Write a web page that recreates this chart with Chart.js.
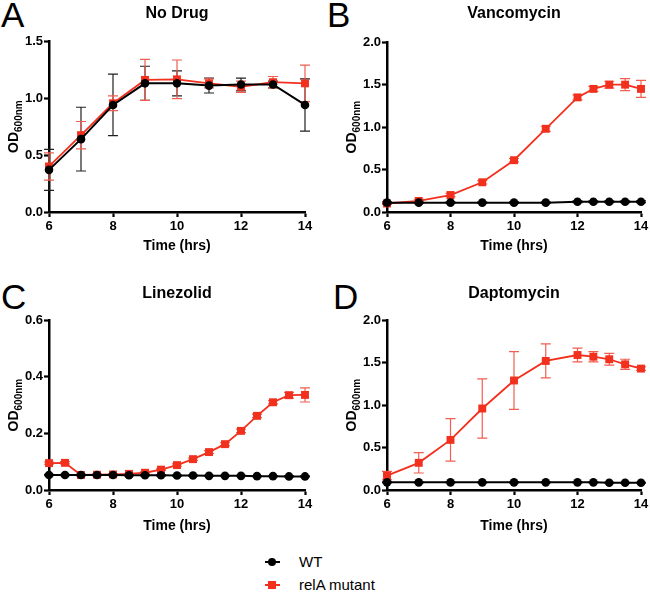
<!DOCTYPE html>
<html>
<head>
<meta charset="utf-8">
<script src="https://cdn.jsdelivr.net/npm/chart.js@4"></script>
<style>
html,body{margin:0;padding:0;background:#fff;overflow:hidden;width:650px;height:595px;}
canvas{position:absolute;}
.letter{position:absolute;font-family:"Liberation Sans",Arial,sans-serif;font-size:35px;color:#000;line-height:1;}
.legend{position:absolute;left:262px;top:552px;font-family:"Liberation Sans",Arial,sans-serif;font-size:15px;color:#000;}
.row{position:relative;height:23px;line-height:20px;padding-left:37px;}
.ln{position:absolute;left:3px;top:9px;width:15px;height:2px;}
.mk{position:absolute;}
</style>
</head>
<body>
<div class="letter" style="left:1px;top:-3px;">A</div>
<div class="letter" style="left:327px;top:-3px;">B</div>
<div class="letter" style="left:1px;top:279px;">C</div>
<div class="letter" style="left:333px;top:279px;">D</div>

<canvas id="cA" width="325" height="255" style="left:0;top:0;"></canvas>
<canvas id="cB" width="340" height="255" style="left:325px;top:0;"></canvas>
<canvas id="cC" width="325" height="280" style="left:0;top:255px;"></canvas>
<canvas id="cD" width="340" height="280" style="left:325px;top:255px;"></canvas>

<div class="legend">
  <div class="row"><span class="ln" style="background:#000"></span><span class="mk" style="left:6px;top:6px;width:8px;height:8px;border-radius:50%;background:#000"></span>WT</div>
  <div class="row"><span class="ln" style="background:rgb(242,48,30)"></span><span class="mk" style="left:6px;top:6px;width:8px;height:8px;background:rgb(242,48,30)"></span>relA mutant</div>
</div>

<script>
// ---------- data ----------
const seriesNames = ['WT', 'relA mutant'];
const panelTitles = ['No Drug', 'Vancomycin', 'Linezolid', 'Daptomycin'];

const A_time = [6, 7, 8, 9, 10, 11, 12, 13, 14];
const A_wt = [0.37, 0.64, 0.94, 1.13, 1.13, 1.11, 1.12, 1.12, 0.94];
const A_wt_err = [0.18, 0.28, 0.27, 0.15, 0.11, 0.065, 0.056, 0.03, 0.23];
const A_rel = [0.40, 0.675, 0.955, 1.16, 1.165, 1.13, 1.10, 1.14, 1.13];
const A_rel_err = [0.12, 0.12, 0.065, 0.18, 0.17, 0.04, 0.05, 0.05, 0.16];

const B_time = [6, 7, 8, 9, 10, 11, 12, 12.5, 13, 13.5, 14];
const B_wt = [0.11, 0.11, 0.11, 0.11, 0.11, 0.11, 0.12, 0.12, 0.12, 0.12, 0.12];
const B_wt_err = [0.01, 0.01, 0.01, 0.01, 0.01, 0.01, 0.01, 0.01, 0.01, 0.01, 0.01];
const B_rel = [0.10, 0.13, 0.20, 0.35, 0.61, 0.98, 1.35, 1.45, 1.50, 1.50, 1.45];
const B_rel_err = [0.01, 0.02, 0.02, 0.02, 0.02, 0.03, 0.03, 0.03, 0.04, 0.07, 0.10];

const C_time = [6, 6.5, 7, 7.5, 8, 8.5, 9, 9.5, 10, 10.5, 11, 11.5, 12, 12.5, 13, 13.5, 14];
const C_wt = [0.053, 0.053, 0.053, 0.053, 0.053, 0.052, 0.052, 0.052, 0.051, 0.051, 0.050, 0.050, 0.050, 0.049, 0.049, 0.048, 0.048];
const C_wt_err = [0.002, 0.002, 0.002, 0.002, 0.002, 0.002, 0.002, 0.002, 0.002, 0.002, 0.002, 0.002, 0.002, 0.002, 0.002, 0.002, 0.002];
const C_rel = [0.095, 0.096, 0.053, 0.054, 0.055, 0.057, 0.061, 0.072, 0.088, 0.109, 0.134, 0.162, 0.209, 0.262, 0.310, 0.335, 0.336];
const C_rel_err = [0.004, 0.004, 0.002, 0.002, 0.002, 0.002, 0.003, 0.003, 0.004, 0.004, 0.005, 0.005, 0.006, 0.006, 0.006, 0.010, 0.025];

const D_time = [6, 7, 8, 9, 10, 11, 12, 12.5, 13, 13.5, 14];
const D_wt = [0.09, 0.09, 0.09, 0.09, 0.09, 0.09, 0.09, 0.09, 0.085, 0.085, 0.085];
const D_wt_err = [0.005, 0.005, 0.005, 0.005, 0.005, 0.005, 0.005, 0.005, 0.005, 0.005, 0.005];
const D_rel = [0.17, 0.32, 0.59, 0.96, 1.29, 1.52, 1.59, 1.57, 1.54, 1.48, 1.43];
const D_rel_err = [0.05, 0.12, 0.25, 0.35, 0.34, 0.20, 0.08, 0.06, 0.07, 0.06, 0.02];

const yMaxes = [1.5, 2.0, 0.6, 2.0];
const ySteps = [0.5, 0.5, 0.2, 0.5];
const xTicks = [6, 8, 10, 12, 14];

// ---------- styling ----------
const FONT = '"Liberation Sans", Arial, Helvetica, sans-serif';
const RED = 'rgb(242,48,30)';
const RED_ERR = 'rgb(240,95,80)';
const BLACK = '#000';

const errorBarPlugin = {
  id: 'errorBars',
  beforeDatasetsDraw(chart) {
    const ctx = chart.ctx;
    const xs = chart.scales.x, ys = chart.scales.y;
    chart.data.datasets.forEach((ds) => {
      if (!ds.errorBars) return;
      ctx.save();
      ctx.strokeStyle = ds.errorColor;
      ctx.lineWidth = 1.2;
      ds.data.forEach((p, j) => {
        const e = ds.errorBars[j];
        if (!e) return;
        const x = xs.getPixelForValue(p.x);
        const y1 = ys.getPixelForValue(p.y + e);
        const y2 = ys.getPixelForValue(p.y - e);
        ctx.beginPath();
        ctx.moveTo(x, y1); ctx.lineTo(x, y2);
        ctx.moveTo(x - 5, y1); ctx.lineTo(x + 5, y1);
        ctx.moveTo(x - 5, y2); ctx.lineTo(x + 5, y2);
        ctx.stroke();
      });
      ctx.restore();
    });
  }
};

const yTitlePlugin = {
  id: 'yTitle',
  afterDraw(chart) {
    const ctx = chart.ctx;
    const area = chart.chartArea;
    const cx = area.left - 36;
    const cy = (area.top + area.bottom) / 2;
    ctx.save();
    ctx.translate(cx, cy);
    ctx.rotate(-Math.PI / 2);
    ctx.fillStyle = '#000';
    ctx.textBaseline = 'alphabetic';
    ctx.font = 'bold 14px ' + FONT;
    const w1 = ctx.measureText('OD').width;
    ctx.font = 'bold 10px ' + FONT;
    const w2 = ctx.measureText('600nm').width;
    const x0 = -(w1 + w2) / 2;
    ctx.font = 'bold 14px ' + FONT;
    ctx.fillText('OD', x0, 5);
    ctx.font = 'bold 10px ' + FONT;
    ctx.fillText('600nm', x0 + w1, 8.5);
    ctx.restore();
  }
};

function pts(xs, ys) { return xs.map((x, i) => ({ x: x, y: ys[i] })); }

function makePanel(id, title, time, wt, wtErr, rel, relErr, yMax, yStep, yWidth, xHeight, titleTop, titleBottom, padRight) {
  new Chart(document.getElementById(id), {
    type: 'line',
    data: {
      datasets: [
        {
          label: seriesNames[0], data: pts(time, wt), errorBars: wtErr, errorColor: '#222',
          borderColor: BLACK, backgroundColor: BLACK, borderWidth: 2,
          pointStyle: 'circle', pointRadius: 4.3, pointBorderWidth: 0, tension: 0, clip: false
        },
        {
          label: seriesNames[1], data: pts(time, rel), errorBars: relErr, errorColor: RED_ERR,
          borderColor: RED, backgroundColor: RED, borderWidth: 1.8,
          pointStyle: 'rect', pointRadius: 5.6, pointBorderWidth: 0, tension: 0, clip: false
        }
      ]
    },
    options: {
      responsive: false,
      animation: false,
      devicePixelRatio: 1,
      layout: { padding: { left: 0, right: padRight, top: 0, bottom: 0 } },
      plugins: {
        legend: { display: false },
        tooltip: { enabled: false },
        title: {
          display: true, text: title, fullSize: false, color: '#000',
          font: { family: FONT, size: 16, weight: 'bold' },
          padding: { top: titleTop, bottom: titleBottom }
        }
      },
      scales: {
        x: {
          type: 'linear', min: 6, max: 14,
          afterBuildTicks: (s) => { s.ticks = xTicks.map(v => ({ value: v })); },
          afterFit: (s) => { s.height = xHeight; },
          ticks: { color: '#000', padding: 2, font: { family: FONT, size: 13, weight: 'bold' }, maxRotation: 0 },
          grid: { drawOnChartArea: false, drawTicks: true, tickLength: 5, tickWidth: 2.2, tickColor: '#000' },
          border: { display: true, color: '#000', width: 2.5 },
          title: { display: true, text: 'Time (hrs)', color: '#000', padding: 0, font: { family: FONT, size: 14, weight: 'bold' } }
        },
        y: {
          min: 0, max: yMax,
          afterFit: (s) => { s.width = yWidth; },
          ticks: { stepSize: yStep, color: '#000', padding: 1, font: { family: FONT, size: 13, weight: 'bold' },
                   callback: (v) => Number(v).toFixed(1) },
          grid: { drawOnChartArea: false, drawTicks: true, tickLength: 5, tickWidth: 2.2, tickColor: '#000' },
          border: { display: true, color: '#000', width: 2.5 }
        }
      }
    },
    plugins: [errorBarPlugin, yTitlePlugin]
  });
}

makePanel('cA', panelTitles[0], A_time, A_wt, A_wt_err, A_rel, A_rel_err, yMaxes[0], ySteps[0], 49, 43, 4, 18, 20);
makePanel('cB', panelTitles[1], B_time, B_wt, B_wt_err, B_rel, B_rel_err, yMaxes[1], ySteps[1], 62, 43, 4, 19, 24);
makePanel('cC', panelTitles[2], C_time, C_wt, C_wt_err, C_rel, C_rel_err, yMaxes[2], ySteps[2], 49, 45, 29, 17, 20);
makePanel('cD', panelTitles[3], D_time, D_wt, D_wt_err, D_rel, D_rel_err, yMaxes[3], ySteps[3], 62, 45, 29, 17, 24);
</script>
</body>
</html>
